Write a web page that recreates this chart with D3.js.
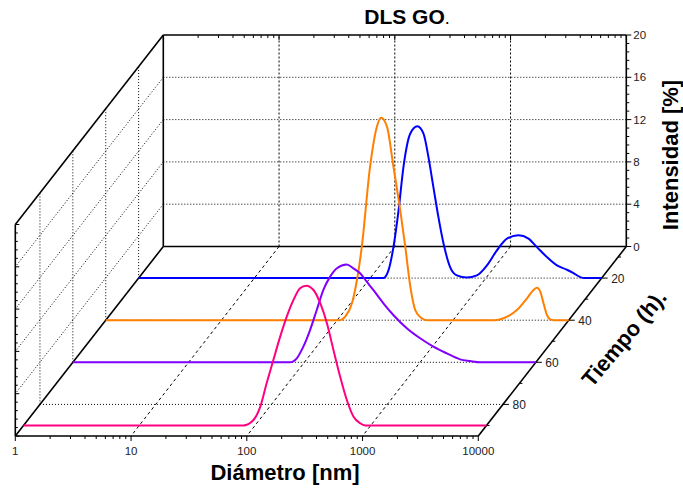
<!DOCTYPE html>
<html>
<head>
<meta charset="utf-8">
<script src="https://cdn.jsdelivr.net/npm/d3@7"></script>
<style>
  html, body { margin: 0; padding: 0; background: #fff; }
  svg { display: block; font-family: "Liberation Sans", Arial, sans-serif; }
</style>
</head>
<body>
<svg id="chart" width="683" height="489"></svg>
<script>
// ---- data -------------------------------------------------------------
const diamTicks = [1, 10, 100, 1000, 10000];
const diamTickLabels = ["1", "10", "100", "1000", "10000"];
const intTicks = [0, 4, 8, 12, 16, 20];
const timeTicks = [20, 40, 60, 80];
const timeMinorTicks = [10, 30, 50, 70, 90];

const seriesTimes = [20, 40, 60, 90];
const seriesColors = ["#0000ff", "#ff8000", "#8000ff", "#ff0080"];

// size distributions: diameter (nm) and intensity (%)
const diam20 = [1, 130, 144, 159, 176, 194, 222, 256, 289, 319, 352, 389, 431, 491, 561, 685, 836, 1021, 1245, 1521, 1914, 2333, 2761, 3365, 4111, 5012, 5715, 6531, 7080, 10000];
const int20  = [0, 0, 0.73, 2.93, 6.4, 10.5, 13.65, 14.35, 13.65, 11.44, 8.6, 5.77, 3.25, 1.04, 0.26, 0.05, 0.26, 1.2, 2.62, 3.73, 4.04, 3.73, 2.93, 1.99, 1.2, 0.79, 0.47, 0.09, 0, 0];

const diam40 = [1, 106, 117, 134, 148, 163, 192, 220, 239, 269, 306, 350, 387, 428, 472, 538, 594, 2290, 2735, 3565, 4355, 4966, 5309, 5675, 6053, 6486, 6918, 7413, 10000];
const int40  = [0, 0, 0.33, 1.6, 3.8, 6.95, 14.5, 18.3, 19.15, 18.3, 14.5, 10.4, 6.95, 3.17, 0.96, 0.18, 0, 0, 0.18, 0.96, 2.07, 2.86, 3.07, 2.7, 1.6, 0.49, 0.07, 0, 0];

const diam60 = [1, 75, 86, 98, 112, 128, 146, 167, 191, 232, 265, 303, 346, 394, 482, 587, 767, 1000, 1303, 1702, 2218, 2704, 3304, 10000];
const int60  = [0, 0, 0.38, 1.48, 3.05, 4.95, 6.84, 8.1, 8.89, 9.25, 8.89, 8.42, 7.62, 6.84, 5.58, 4.47, 3.22, 2.27, 1.48, 0.85, 0.28, 0.12, 0, 0];

const diam90 = [1, 79, 97, 111, 126, 144, 165, 188, 215, 245, 277, 320, 366, 418, 476, 544, 621, 710, 809, 895, 10000];
const int90  = [0, 0, 0.52, 1.78, 3.99, 6.19, 8.4, 10.29, 11.87, 12.97, 13.22, 12.81, 11.56, 9.66, 7.14, 4.61, 2.41, 0.83, 0.21, 0, 0];

const seriesDiam = [diam20, diam40, diam60, diam90];
const seriesInt = [int20, int40, int60, int90];

// ---- oblique projection -------------------------------------------------
const svg = d3.select("#chart");
const x = d3.scaleLog().domain([1, 10000]).range([15.3, 478.3]);   // front edge
const depth = d3.scaleLinear().domain([5, 95]).range([1, 0]);      // 1 = back wall
const yI = d3.scaleLinear().domain([0, 20]).range([0, 211.5]);     // height above floor
const DX = 148, DY = -189.5, Y0 = 436;
const P = (d, t, v) => { const k = depth(t); return [x(d) + DX * k, Y0 + DY * k - yI(v)]; };
const T0 = depth.domain()[0], T1 = depth.domain()[1];
const D0 = 1, D1 = 10000;

const g = svg.append("g");
const seg = (a, b, cls) => g.append("line")
  .attr("x1", a[0]).attr("y1", a[1]).attr("x2", b[0]).attr("y2", b[1]).attr("class", cls);

const styles = {
  edge: { stroke: "#000", "stroke-width": 1.6 },
  dot: { stroke: "#000", "stroke-width": 1, "stroke-dasharray": "1,2" },
  dash: { stroke: "#000", "stroke-width": 1, "stroke-dasharray": "2,2" },
  floorDash: { stroke: "#000", "stroke-width": 1, "stroke-dasharray": "3,3" },
  tick: { stroke: "#000", "stroke-width": 1 }
};
function styled(sel, s) { Object.entries(styles[s]).forEach(([k, v]) => sel.attr(k, v)); return sel; }
const L = (a, b, s) => styled(seg(a, b, s), s);

// back wall grid
intTicks.filter(v => v > 0 && v < 20).forEach(v => L(P(D0, T0, v), P(D1, T0, v), "dot"));
diamTicks.filter(d => d > D0 && d < D1).forEach(d => L(P(d, T0, 0), P(d, T0, 20), "dash"));
// left wall grid
intTicks.filter(v => v > 0 && v < 20).forEach(v => L(P(D0, T0, v), P(D0, T1, v), "dot"));
timeTicks.forEach(t => L(P(D0, t, 0), P(D0, t, 20), "dot"));
// floor grid
timeTicks.forEach(t => L(P(D0, t, 0), P(D1, t, 0), "dot"));
diamTicks.filter(d => d > D0 && d < D1).forEach(d => L(P(d, T0, 0), P(d, T1, 0), "floorDash"));

// frame edges
L(P(D0, T0, 0), P(D1, T0, 0), "edge");
L(P(D0, T0, 20), P(D1, T0, 20), "edge");
L(P(D0, T0, 0), P(D0, T0, 20), "edge");
L(P(D1, T0, 0), P(D1, T0, 20), "edge");
L(P(D0, T0, 20), P(D0, T1, 20), "edge");
L(P(D0, T1, 0), P(D0, T1, 20), "edge");
L(P(D0, T0, 0), P(D0, T1, 0), "edge");
L(P(D0, T1, 0), P(D1, T1, 0), "edge");
L(P(D1, T0, 0), P(D1, T1, 0), "edge");

// diameter ticks (front bottom and back top)
const major = new Set(diamTicks);
x.ticks().forEach(d => {
  const len = major.has(d) ? 5 : 3;
  const f = P(d, T1, 0);
  L(f, [f[0], f[1] + len], "tick");
  const b = P(d, T0, 20);
  L(b, [b[0], b[1] + len], "tick");
});
diamTicks.forEach((d, i) => {
  const f = P(d, T1, 0);
  g.append("text").attr("x", f[0]).attr("y", f[1] + 19)
    .attr("text-anchor", "middle").attr("font-size", 11.5).attr("fill", "#222")
    .text(diamTickLabels[i]);
});

// intensity ticks (right edge of back wall, front-left edge)
d3.range(0, 20.01, 0.8).forEach(v => {
  const isMajor = intTicks.some(m => Math.abs(m - v) < 1e-6);
  const r = P(D1, T0, v);
  L(r, [r[0] + (isMajor ? 5 : 3), r[1]], "tick");
  const l = P(D0, T1, v);
  L(l, [l[0] + (isMajor ? 4 : 2.5), l[1]], "tick");
});
intTicks.forEach(v => {
  const r = P(D1, T0, v);
  g.append("text").attr("x", r[0] + 7).attr("y", r[1] + 4)
    .attr("font-size", 11.5).attr("fill", "#222").text(v);
});

// time ticks along the right floor edge
timeTicks.concat(timeMinorTicks).forEach(t => {
  const p = P(D1, t, 0);
  const len = timeTicks.includes(t) ? 6 : 3;
  L(p, [p[0] + len, p[1]], "tick");
});
timeTicks.forEach(t => {
  const p = P(D1, t, 0);
  g.append("text").attr("x", p[0] + 9.5).attr("y", p[1] + 4.5)
    .attr("font-size", 12).attr("fill", "#222").text(t);
});

// series, drawn back to front
const line = d3.line().curve(d3.curveMonotoneX);
seriesTimes.forEach((t, i) => {
  const pts = seriesDiam[i].map((d, j) => P(d, t, seriesInt[i][j]));
  g.append("path").attr("d", line(pts))
    .attr("fill", "none").attr("stroke", seriesColors[i])
    .attr("stroke-width", 2).attr("stroke-linejoin", "round");
});

// titles
const title = svg.append("text").attr("x", 407).attr("y", 24)
  .attr("text-anchor", "middle").attr("font-size", 21).attr("font-weight", "bold");
title.append("tspan").text("DLS GO");
title.append("tspan").attr("font-weight", "normal").attr("font-size", 18).text(".");

svg.append("text").attr("x", 285).attr("y", 480)
  .attr("text-anchor", "middle").attr("font-size", 22).attr("font-weight", "bold")
  .text("Diámetro [nm]");

svg.append("text").attr("transform", "translate(678,155) rotate(-90)")
  .attr("text-anchor", "middle").attr("font-size", 22).attr("font-weight", "bold")
  .text("Intensidad [%]");

svg.append("text").attr("transform", "translate(630,343) rotate(-50)")
  .attr("text-anchor", "middle").attr("font-size", 22).attr("font-weight", "bold")
  .text("Tiempo (h).");
</script>
</body>
</html>
